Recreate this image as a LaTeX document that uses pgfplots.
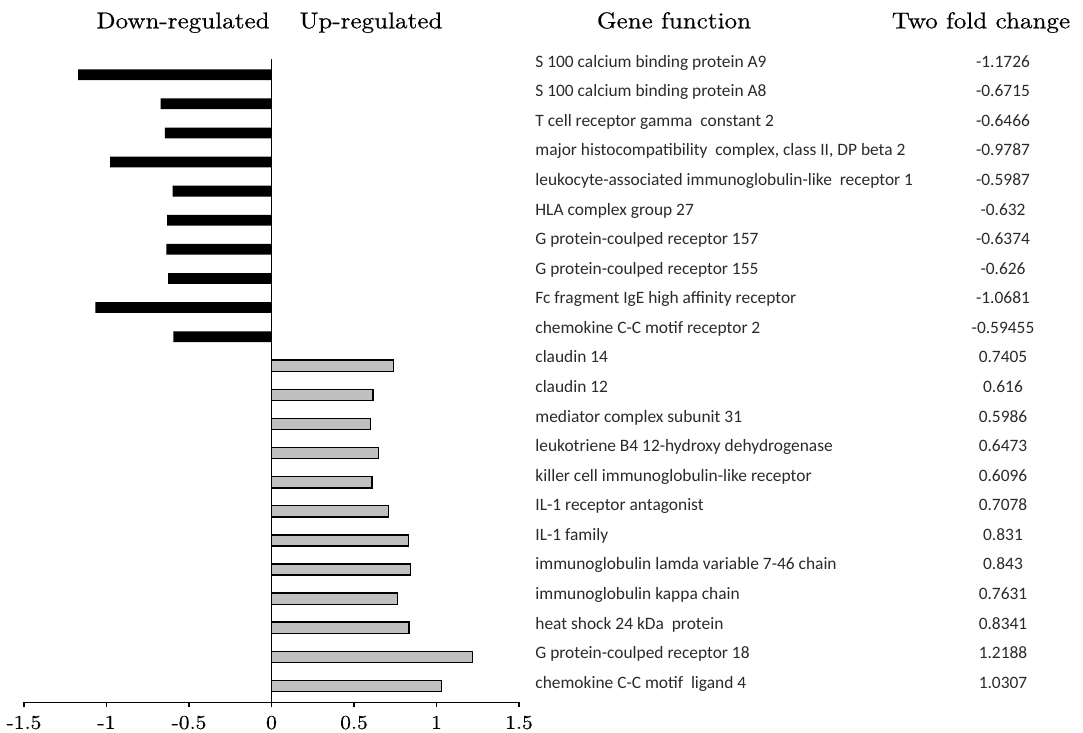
\documentclass[border=0pt]{standalone}
\usepackage{pgfplots}
\pgfplotsset{compat=1.18}
\usepackage{fontspec}
\newfontfamily\hdr{lmroman10-regular.otf}[FakeStretch=1.1,FakeBold=0.4]
\newfontfamily\calfont{Carlito}
\definecolor{txt}{HTML}{2A2A2A}
\definecolor{barg}{HTML}{C0C0C0}
\newcommand\row[3]{\node[anchor=base west,inner sep=0pt,font=\calfont\fontsize{8.7}{10}\selectfont,text=txt] at (535,{733-(67.3+(#1-1)*29.57)}) {#2};
\node[anchor=base,inner sep=0pt,font=\calfont\fontsize{8.7}{10}\selectfont,text=txt] at (1003,{733-(67.3+(#1-1)*29.57)}) {#3};}
\begin{document}
\begin{tikzpicture}
\useasboundingbox (0,0) rectangle (541.5pt,366.5pt);
\begin{axis}[
  at={(12pt,15.35pt)}, anchor=south west,
  scale only axis, width=247.5pt, height=321.5pt,
  xmin=-1.5, xmax=1.5, ymin=0.44, ymax=22.529,
  axis x line*=bottom, axis y line*=middle,
  axis line style={black, line width=0.6pt},
  ytick=\empty,
  xtick={-1.5,-1,-0.5,0,0.5,1,1.5},
  xticklabels={-1.5,-1,-0.5,0,0.5,1,1.5},
  tick align=outside, major tick length=2.3pt,
  xtick style={black, line width=0.6pt},
  xticklabel style={font=\hdr\fontsize{9.8}{11}\selectfont, text=black, anchor=base, inner sep=0pt, yshift=-11pt},
  clip=false,
]
\addplot[xbar, bar shift=0pt, bar width=5.4pt, fill=black, draw=none] coordinates {
(-1.1726,22) (-0.6715,21) (-0.6466,20) (-0.9787,19) (-0.5987,18)
(-0.632,17) (-0.6374,16) (-0.626,15) (-1.0681,14) (-0.59455,13)};
\addplot[xbar, bar shift=0pt, bar width=5.6pt, fill=barg, draw=black, line width=0.7pt] coordinates {
(0.7405,12) (0.616,11) (0.5986,10) (0.6473,9) (0.6096,8) (0.7078,7)
(0.831,6) (0.843,5) (0.7631,4) (0.8341,3) (1.2188,2) (1.0307,1)};
\end{axis}
\begin{scope}[x=0.5pt,y=0.5pt]
\foreach \xc/\t in {183/Down-regulated, 371/Up-regulated, 674/Gene function, 981/Two fold change}
  \node[anchor=base,inner sep=0pt,font=\hdr\fontsize{11.4}{13}\selectfont,text=black] at (\xc,{733-28.3}) {\t};
\row{1}{S 100 calcium binding protein A9}{-1.1726}
\row{2}{S 100 calcium binding protein A8}{-0.6715}
\row{3}{T cell receptor gamma\ \ constant 2}{-0.6466}
\row{4}{major histocompatibility\ \ complex, class II, DP beta 2}{-0.9787}
\row{5}{leukocyte-associated immunoglobulin-like\ \ receptor 1}{-0.5987}
\row{6}{HLA complex group 27}{-0.632}
\row{7}{G protein-coulped receptor 157}{-0.6374}
\row{8}{G protein-coulped receptor 155}{-0.626}
\row{9}{Fc fragment IgE high affinity receptor}{-1.0681}
\row{10}{chemokine C-C motif receptor 2}{-0.59455}
\row{11}{claudin 14}{0.7405}
\row{12}{claudin 12}{0.616}
\row{13}{mediator complex subunit 31}{0.5986}
\row{14}{leukotriene B4 12-hydroxy dehydrogenase}{0.6473}
\row{15}{killer cell immunoglobulin-like receptor}{0.6096}
\row{16}{IL-1 receptor antagonist}{0.7078}
\row{17}{IL-1 family}{0.831}
\row{18}{immunoglobulin lamda variable 7-46 chain}{0.843}
\row{19}{immunoglobulin kappa chain}{0.7631}
\row{20}{heat shock 24 kDa\ \ protein}{0.8341}
\row{21}{G protein-coulped receptor 18}{1.2188}
\row{22}{chemokine C-C motif\ \ ligand 4}{1.0307}
\end{scope}
\end{tikzpicture}
\end{document}
